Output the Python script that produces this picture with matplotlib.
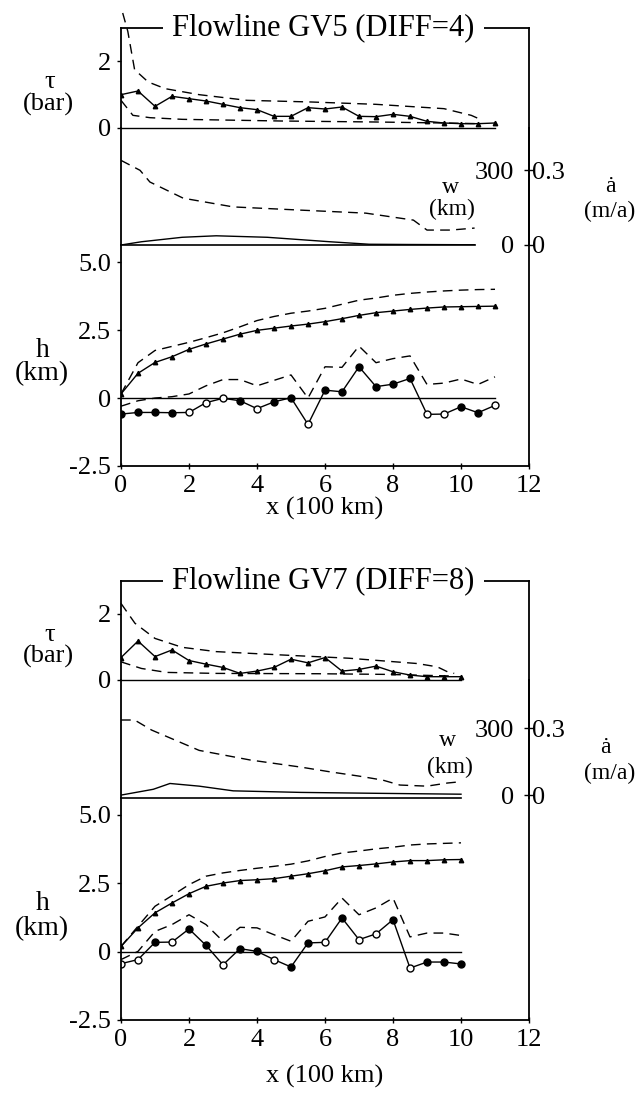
import numpy as np
import matplotlib.pyplot as plt

plt.rcParams['font.family'] = ['Liberation Serif', 'DejaVu Serif']
plt.rcParams['font.size'] = 19

W, H = 644, 1095

# ---------------- Flowline GV5 ----------------
gv5_x = np.arange(23) * 0.5
gv5_tau = [1.00, 1.11, 0.65, 0.95, 0.88, 0.81, 0.71, 0.61, 0.55, 0.35, 0.35, 0.61,
           0.57, 0.63, 0.35, 0.34, 0.41, 0.35, 0.20, 0.15, 0.13, 0.13, 0.15]
gv5_tau_hi_x = [0.05, 0.2, 0.4, 0.8, 1.3, 2.3, 3.7, 5.6, 7.5, 9.5, 10.3, 10.5]
gv5_tau_hi = [3.45, 2.9, 1.75, 1.38, 1.18, 1.0, 0.83, 0.78, 0.71, 0.58, 0.38, 0.29]
gv5_tau_lo_x = [0, 0.35, 0.85, 1.8, 4.7, 7.5, 9.5, 10.5]
gv5_tau_lo = [0.83, 0.38, 0.31, 0.26, 0.21, 0.18, 0.15, 0.13]
gv5_acc_x = [0, 0.56, 0.85, 1.83, 3.3, 5.3, 7.2, 8.6, 9.0, 9.7, 10.4]
gv5_acc = [0.34, 0.30, 0.253, 0.188, 0.153, 0.14, 0.128, 0.10, 0.06, 0.06, 0.068]
gv5_w_x = [0, 0.6, 1.8, 2.8, 4.3, 6.15, 7.3, 8.5, 10.4]
gv5_w = [0, 13, 31, 37, 31, 13, 3, 2, 1]
gv5_surf = [0.15, 0.91, 1.31, 1.52, 1.79, 1.99, 2.17, 2.35, 2.49, 2.57, 2.65, 2.72,
            2.81, 2.92, 3.04, 3.14, 3.20, 3.26, 3.31, 3.35, 3.36, 3.37, 3.38]
gv5_surf_obs = [0.15, 1.3, 1.75, 1.9, 2.05, 2.22, 2.4, 2.62, 2.85, 3.0, 3.12, 3.2,
                3.3, 3.45, 3.6, 3.68, 3.78, 3.85, 3.9, 3.94, 3.97, 3.99, 4.0]
gv5_bed = [-0.59, -0.53, -0.53, -0.54, -0.53, -0.17, -0.01, -0.10, -0.39, -0.14, 0.01, -0.97,
           0.29, 0.23, 1.15, 0.42, 0.51, 0.72, -0.60, -0.59, -0.32, -0.54, -0.27]
gv5_bed_obs = [-0.3, -0.1, 0.0, 0.05, 0.15, 0.45, 0.68, 0.68, 0.45, 0.65, 0.85, 0.0,
               1.15, 1.13, 1.91, 1.3, 1.45, 1.55, 0.5, 0.55, 0.7, 0.5, 0.78]
gv5_bed_open = [4, 5, 6, 8, 11, 18, 19, 22]

# ---------------- Flowline GV7 ----------------
gv7_x = np.arange(21) * 0.5
gv7_tau = [0.68, 1.18, 0.71, 0.91, 0.59, 0.48, 0.38, 0.20, 0.27, 0.38, 0.63,
           0.52, 0.68, 0.27, 0.32, 0.42, 0.25, 0.15, 0.10, 0.10, 0.10]
gv7_tau_hi_x = [0, 0.41, 1.0, 1.8, 2.8, 4.7, 6.7, 8.7, 9.3, 9.6, 9.8]
gv7_tau_hi = [2.32, 1.72, 1.26, 0.99, 0.86, 0.76, 0.66, 0.5, 0.4, 0.25, 0.2]
gv7_tau_lo_x = [0, 0.6, 1.34, 2.8, 5.8, 7.8, 9.8]
gv7_tau_lo = [0.55, 0.35, 0.23, 0.2, 0.19, 0.17, 0.12]
gv7_acc_x = [0, 0.4, 0.9, 2.3, 3.8, 5.3, 6.15, 7.0, 7.7, 8.2, 9.0, 9.6, 10.0]
gv7_acc = [0.336, 0.336, 0.291, 0.2, 0.157, 0.125, 0.104, 0.085, 0.067, 0.045, 0.04, 0.054, 0.06]
gv7_w_x = [0, 0.95, 1.44, 2.3, 3.3, 5.3, 7.5, 10.0]
gv7_w = [0, 26, 52, 40, 19, 12, 8, 4]
gv7_surf = [0.19, 0.87, 1.42, 1.78, 2.12, 2.39, 2.51, 2.60, 2.63, 2.67, 2.76,
            2.85, 2.96, 3.10, 3.15, 3.21, 3.28, 3.33, 3.33, 3.36, 3.37]
gv7_surf_obs = [0.19, 0.93, 1.66, 2.05, 2.45, 2.76, 2.88, 2.97, 3.05, 3.12, 3.2,
                3.32, 3.48, 3.61, 3.68, 3.76, 3.82, 3.9, 3.94, 3.96, 3.98]
gv7_bed = [-0.44, -0.29, 0.34, 0.35, 0.83, 0.23, -0.48, 0.11, 0.01, -0.29, -0.56,
           0.32, 0.34, 1.23, 0.44, 0.65, 1.17, -0.60, -0.38, -0.38, -0.45]
gv7_bed_obs = [-0.29, 0.01, 0.74, 0.99, 1.35, 0.99, 0.38, 0.89, 0.87, 0.62, 0.38,
               1.11, 1.27, 1.96, 1.35, 1.6, 1.96, 0.54, 0.68, 0.68, 0.59]
gv7_bed_open = [0, 1, 3, 6, 9, 12, 14, 15, 17]

x_ticks = [0, 2, 4, 6, 8, 10, 12]
h_ticks = [-2.5, 0, 2.5, 5.0]
h_tick_labels = ['-2.5', '0', '2.5', '5.0']
tau_ticks = [0, 2]
w_ticks = [0, 300]
acc_ticks = [0, 0.3]
acc_tick_labels = ['0', '0.3']

DASH = (7, 4.5)
LEFT, RIGHT = 121, 529


def fx(px):
    return px / W


def fy(py):
    return 1 - py / H


def add_ax(fig, top, bottom):
    return fig.add_axes([fx(LEFT), fy(bottom), (RIGHT - LEFT) / W, (bottom - top) / H])


def panel(fig, rows, title, x, tau, tau_hi, tau_lo, acc, w, surf, surf_obs, bed, bed_obs,
          bed_open, mid_lim, h_top, texts, xlabelpad):
    top, zero, base, bottom = rows
    ax_t = add_ax(fig, top, zero)
    ax_m = add_ax(fig, zero, base)
    ax_h = add_ax(fig, base, bottom)
    ax_a = ax_m.twinx()
    xend = x[-1]

    for ax in (ax_t, ax_m, ax_h, ax_a):
        ax.set_xlim(0, 12)
        ax.patch.set_alpha(0)
        for s in ax.spines.values():
            s.set_linewidth(1.3)
    ax_t.spines['bottom'].set_visible(False)
    ax_m.spines['top'].set_visible(False)
    ax_m.spines['bottom'].set_visible(False)
    ax_h.spines['top'].set_visible(False)
    for s in ('left', 'top', 'bottom'):
        ax_a.spines[s].set_visible(False)
    for ax in (ax_t, ax_m, ax_a):
        ax.tick_params(axis='x', bottom=False, labelbottom=False)

    # basal shear stress
    ax_t.set_ylim(0, 3.0)
    ax_t.plot([0, xend], [0, 0], color='k', lw=1.0, clip_on=False)
    ax_t.plot(tau_hi[0], tau_hi[1], color='k', lw=1.0, dashes=DASH, clip_on=False)
    ax_t.plot(tau_lo[0], tau_lo[1], color='k', lw=1.0, dashes=DASH)
    ax_t.plot(x, tau, color='k', lw=1.0, marker='^', ms=3.2)
    ax_t.set_yticks(tau_ticks)
    ax_t.set_yticklabels([str(t) for t in tau_ticks])
    ax_t.tick_params(axis='y', direction='out', length=3, width=1, pad=4)
    ax_t.text(0.496, 0.93, title, transform=ax_t.transAxes, ha='center', va='baseline',
              fontsize=22, bbox=dict(boxstyle='square,pad=0.3', fc='white', ec='none'))

    # width and accumulation
    ax_m.set_ylim(*mid_lim)
    ax_a.set_ylim(mid_lim[0] / 1000, mid_lim[1] / 1000)
    ax_m.plot([0, acc[0][-1]], [mid_lim[0], mid_lim[0]], color='k', lw=1.2, clip_on=False)
    ax_m.plot(w[0], w[1], color='k', lw=1.0)
    ax_a.plot(acc[0], acc[1], color='k', lw=1.0, dashes=DASH)
    ax_m.yaxis.tick_right()
    ax_m.set_yticks(w_ticks)
    ax_m.set_yticklabels([str(t) for t in w_ticks])
    ax_m.tick_params(axis='y', length=0, pad=-10.5)
    for lab in ax_m.get_yticklabels():
        lab.set_ha('right')
    ax_a.set_yticks(acc_ticks)
    ax_a.set_yticklabels(acc_tick_labels)
    ax_a.tick_params(axis='y', direction='inout', length=7, width=1, pad=-1.5)

    # surface and bed elevation
    ax_h.set_ylim(-2.5, h_top)
    ax_h.plot([0, xend], [0, 0], color='k', lw=1.0)
    ax_h.plot(x, surf_obs, color='k', lw=1.0, dashes=DASH)
    ax_h.plot(x, surf, color='k', lw=1.0, marker='^', ms=3.2)
    ax_h.plot(x, bed_obs, color='k', lw=1.0, dashes=DASH)
    ax_h.plot(x, bed, color='k', lw=1.0)
    bed = np.asarray(bed)
    is_open = np.zeros(len(x), bool)
    is_open[bed_open] = True
    ax_h.plot(x[~is_open], bed[~is_open], 'o', ms=5, mfc='k', mec='k', mew=1)
    ax_h.plot(x[is_open], bed[is_open], 'o', ms=5, mfc='white', mec='k', mew=1)
    ax_h.set_yticks(h_ticks)
    ax_h.set_yticklabels(h_tick_labels)
    ax_h.tick_params(axis='y', direction='out', length=3, width=1, pad=4)
    ax_h.set_xticks(x_ticks)
    ax_h.set_xticklabels([str(t) for t in x_ticks])
    ax_h.tick_params(axis='x', direction='inout', length=5, width=1, pad=4)
    ax_h.set_xlabel('x (100 km)', labelpad=xlabelpad)

    for s, px, py, size in texts:
        fig.text(fx(px), fy(py), s, ha='center', va='baseline', fontsize=size)


fig = plt.figure(figsize=(W / 100, H / 100), dpi=100)

panel(fig, (28, 128, 245, 466), 'Flowline GV5 (DIFF=4)', gv5_x, gv5_tau,
      (gv5_tau_hi_x, gv5_tau_hi), (gv5_tau_lo_x, gv5_tau_lo),
      (gv5_acc_x, gv5_acc), (gv5_w_x, gv5_w),
      gv5_surf, gv5_surf_obs, gv5_bed, gv5_bed_obs, gv5_bed_open,
      (0, 470), 5.63,
      [('τ', 50, 88, 19), ('(bar)', 48, 111, 19), ('h', 43, 357, 20), ('(km)', 42, 380, 20),
       ('w', 450, 193, 17), ('(km)', 452, 215, 17), ('ȧ', 610, 192, 17),
       ('(m/a)', 610, 217, 17)],
      0)

panel(fig, (581, 680, 798, 1020), 'Flowline GV7 (DIFF=8)', gv7_x, gv7_tau,
      (gv7_tau_hi_x, gv7_tau_hi), (gv7_tau_lo_x, gv7_tau_lo),
      (gv7_acc_x, gv7_acc), (gv7_w_x, gv7_w),
      gv7_surf, gv7_surf_obs, gv7_bed, gv7_bed_obs, gv7_bed_open,
      (-13, 515), 5.62,
      [('τ', 50, 641, 19), ('(bar)', 48, 663, 19), ('h', 43, 910, 20), ('(km)', 42, 935, 20),
       ('w', 447, 746, 17), ('(km)', 450, 773, 17), ('ȧ', 605, 753, 17),
       ('(m/a)', 610, 779, 17)],
      10)

fig.savefig('out.png', dpi=100)
